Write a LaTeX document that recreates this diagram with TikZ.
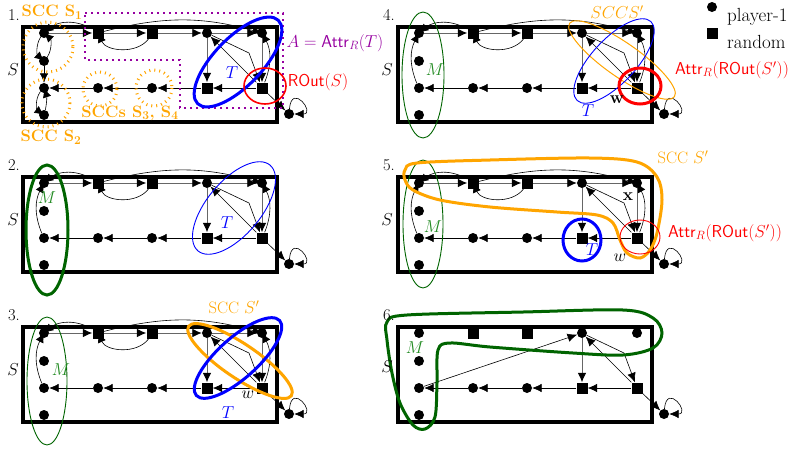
\documentclass[tikz,border=0pt]{standalone}
\usetikzlibrary{arrows.meta,calc}
\definecolor{myorange}{RGB}{255,165,0}
\definecolor{mypurple}{RGB}{150,0,160}
\definecolor{myblue}{RGB}{0,0,255}
\definecolor{myred}{RGB}{255,0,0}
\definecolor{mygreen}{RGB}{0,100,0}
\definecolor{mgreen}{RGB}{34,139,34}
\newcommand\gnodes{%
 \draw[frame] (23,27) rectangle (277,122);
 \node[pl] (a11) at (44,33) {};
 \node[rnd] (a12) at (98,33) {};
 \node[rnd] (a13) at (152,33) {};
 \node[pl] (a14) at (207,33) {};
 \node[pl] (a15) at (262,33) {};
 \node[pl] (a21) at (44,61) {};
 \node[pl] (a31) at (44,88) {};
 \node[pl] (a32) at (98,88) {};
 \node[pl] (a33) at (152,88) {};
 \node[rnd] (a34) at (207,88) {};
 \node[rnd] (a35) at (262,88) {};
 \node[pl] (a41) at (44,115) {};
 \node[pl] (out) at (289,114) {};
}
\newcommand\toprow{%
 \draw[garr] (a11) -- (a12);
 \draw[garr] (a12) -- (a13);
 \draw[garr] (a13) -- (a14);
 \draw[garr] (a14) -- (a15);
 \draw[arr] (a12) to[bend right=35] (a11);
 \draw[arr] (a13) to[bend left=60] (a12);
 \draw[arr] (a12) to[bend left=15] (a15);
 \draw[garr] (a15) -- (a35);
 \draw[arr] (a35) to[bend right=25] (a15);
}
\newcommand\rightedges{%
 \draw[garr] (a14) -- (a34);
 \draw[arr] (a35) -- (a14);
 \coordinate (bp) at (249,53);
 \draw[arr] (a14) -- (bp) -- (a35);
 \draw[arr] (a35) -- (a34);
 \draw[arr] (a34) -- (a33);
 \draw[arr] (a33) -- (a32);
 \draw[arr] (a32) -- (a31);
 \draw[arr] (a35) -- (out);
 \draw[arr] (out) to[loop, out=85, in=0, min distance=27pt] (out);
}
\newcommand\leftcurve{\draw[arr] (a31) to[bend left=25] (a11);}
\begin{document}
\begin{tikzpicture}[x=1pt,y=-1pt,
 pl/.style={circle, fill=black, inner sep=0pt, minimum size=10pt},
 rnd/.style={rectangle, fill=black, inner sep=0pt, minimum size=11pt},
 arr/.style={-{Latex[length=9.5pt,width=8.5pt]}, line width=0.6pt},
 garr/.style={-{Latex[length=9.5pt,width=8.5pt,color=black]}, line width=0.8pt, draw=black!60},
 frame/.style={line width=3.2pt},
 lbl/.style={font=\fontsize{16.5}{19}\selectfont, inner sep=0pt},
 odot/.style={myorange, line width=3pt, dash pattern=on 1pt off 4pt},
 thick3/.style={line width=3pt},
 thin1/.style={line width=0.9pt}]
\useasboundingbox (0,0) rectangle (793,451);

% ---------- panel 1
\begin{scope}[name prefix=p1-]
 \gnodes \toprow \rightedges
 \draw[arr] (a11) to[bend right=40] (a21);
 \draw[arr] (a21) to[bend right=40] (a11);
 \draw[arr] (a21) -- (a31);
 \draw[arr] (a31) to[bend right=45] (a41);
 \draw[arr] (a41) to[bend right=15] (a31);
 \draw[odot] (48,47) circle[radius=25];
 \draw[odot] (46,103) circle[radius=24];
 \draw[odot] (100,89) circle[radius=17];
 \draw[odot] (154,88) circle[radius=18];
 \draw[mypurple, line width=2pt, dash pattern=on 2pt off 4pt] (85,13) -- (283,13) -- (283,108) -- (180,108) -- (180,60) -- (85,60) -- cycle;
 \draw[myblue, thick3, rotate around={46:(238,62)}] (238,62) ellipse[x radius=58, y radius=24];
 \draw[myred, line width=1.6pt] (265,86) ellipse[x radius=21, y radius=18];
 \node[lbl] (n1) at (14,15) {1.};
 \node[lbl] (s1) at (13,70) {$S$};
 \node[lbl, myorange] (scc1) at (52,12) {\textbf{SCC S}$_{\mathbf{1}}$};
 \node[lbl, myorange] (scc2) at (51,137) {\textbf{SCC S}$_{\mathbf{2}}$};
 \node[lbl, myorange] (scc34) at (130,113) {\textbf{SCCs S}$_{\mathbf{3}}$\textbf{, S}$_{\mathbf{4}}$};
 \node[lbl, mypurple] (aattr) at (335,43) {$A=\mathsf{Attr}_R(T)$};
 \node[lbl, myblue] (t1) at (232,73) {$T$};
 \node[lbl, myred] (rout1) at (318,82) {$\mathsf{ROut}(S)$};
\end{scope}

% ---------- panel 2
\begin{scope}[shift={(0,150)}, name prefix=p2-]
 \gnodes \toprow \rightedges \leftcurve
 \draw[mygreen, thick3] (47,80) ellipse[x radius=21, y radius=65];
 \draw[myblue, thin1, rotate around={50:(234,58)}] (234,58) ellipse[x radius=56, y radius=27];
 \node[lbl] (n2) at (14,15) {2.};
 \node[lbl] (s2) at (13,70) {$S$};
 \node[lbl, mgreen] (m2) at (47,48) {$M$};
 \node[lbl, myblue] (t2) at (227,73) {$T$};
\end{scope}

% ---------- panel 3
\begin{scope}[shift={(0,300)}, name prefix=p3-]
 \gnodes \toprow \rightedges \leftcurve
 \draw[mygreen, thin1] (47,81) ellipse[x radius=20, y radius=64];
 \draw[myorange, thick3, rotate around={-34:(240,61)}] (240,61) ellipse[x radius=62, y radius=17];
 \draw[myblue, thick3, rotate around={42:(238,58)}] (238,58) ellipse[x radius=56, y radius=20];
 \node[lbl] (n3) at (14,15) {3.};
 \node[lbl] (s3) at (13,70) {$S$};
 \node[lbl, mgreen] (m3) at (61,70) {$M$};
 \node[lbl, myorange] (scc3) at (234,7) {SCC $S'$};
 \node[lbl] (w3) at (248,95) {$w$};
 \node[lbl, myblue] (t3) at (228,113) {$T$};
\end{scope}

% ---------- panel 4
\begin{scope}[shift={(375,0)}, name prefix=p4-]
 \gnodes \toprow \rightedges \leftcurve
 \draw[mygreen, thin1] (48,75) ellipse[x radius=21, y radius=63];
 \draw[myorange, line width=1pt, rotate around={-35:(247,60)}] (247,60) ellipse[x radius=64, y radius=17];
 \draw[myblue, thin1, rotate around={47:(239,61)}] (239,61) ellipse[x radius=54, y radius=22];
 \draw[myred, thick3] (265,86) ellipse[x radius=21, y radius=18];
 \node[lbl] (n4) at (14,15) {4.};
 \node[lbl] (s4) at (12,70) {$S$};
 \node[lbl, mgreen] (m4) at (60,70) {$M$};
 \node[lbl, myorange] (scc4) at (242,12) {$SCCS'$};
 \node[lbl] (w4) at (242,100) {$\mathbf{w}$};
 \node[lbl, myblue] (t4) at (213,111) {$T$};
 \node[lbl, myred] (attr4) at (357,70) {$\mathsf{Attr}_R(\mathsf{ROut}(S'))$};
 \node[pl] (leg1) at (337,7) {};
 \node[rnd] (leg2) at (337,33) {};
 \node[lbl, anchor=west, font=\fontsize{19}{22}\selectfont] (legt1) at (352,17) {player-1};
 \node[lbl, anchor=west, font=\fontsize{19}{22}\selectfont] (legt2) at (352,42) {random};
\end{scope}

% ---------- panel 5
\begin{scope}[shift={(375,150)}, name prefix=p5-]
 \gnodes \toprow \rightedges \leftcurve
 \draw[mygreen, thin1] (48,74) ellipse[x radius=20, y radius=64];
 \draw[myorange, thick3] plot[smooth cycle, tension=0.55] coordinates {
  (30,20) (42,13) (115,10) (215,8) (262,12) (282,27) (287,50) (282,83) (275,100) (265,108) (252,103) (245,90) (238,73) (222,65) (182,62) (115,57) (65,50) (38,40) (30,30)};
 \draw[myblue, thick3] (207,90) ellipse[x radius=19, y radius=21];
 \draw[myred, thin1] (265,87) ellipse[x radius=20, y radius=17];
 \node[lbl] (n5) at (14,15) {5.};
 \node[lbl] (s5) at (12,70) {$S$};
 \node[lbl, mgreen] (m5) at (58,77) {$M$};
 \node[lbl, myorange] (scc5) at (308,7) {SCC $S'$};
 \node[lbl] (x5) at (253,47) {$\mathbf{x}$};
 \node[lbl] (w5) at (245,108) {$w$};
 \node[lbl, myblue] (t5) at (217,100) {$T$};
 \node[lbl, myred] (attr5) at (350,83) {$\mathsf{Attr}_R(\mathsf{ROut}(S'))$};
\end{scope}

% ---------- panel 6
\begin{scope}[shift={(375,300)}, name prefix=p6-]
 \gnodes \rightedges
 \draw[arr] (a31) -- (a14);
 \draw[mygreen, thick3] plot[smooth cycle, tension=0.55] coordinates {
  (12,22) (32,15) (148,12) (248,10) (278,18) (287,33) (278,48) (248,55) (198,53) (115,47) (75,43) (63,50) (62,83) (60,117) (50,129) (38,125) (25,103) (17,73) (12,40)};
 \node[lbl] (n6) at (14,15) {6.};
 \node[lbl] (s6) at (12,67) {$S$};
 \node[lbl, mgreen] (m6) at (40,48) {$M$};
\end{scope}
\end{tikzpicture}
\end{document}
